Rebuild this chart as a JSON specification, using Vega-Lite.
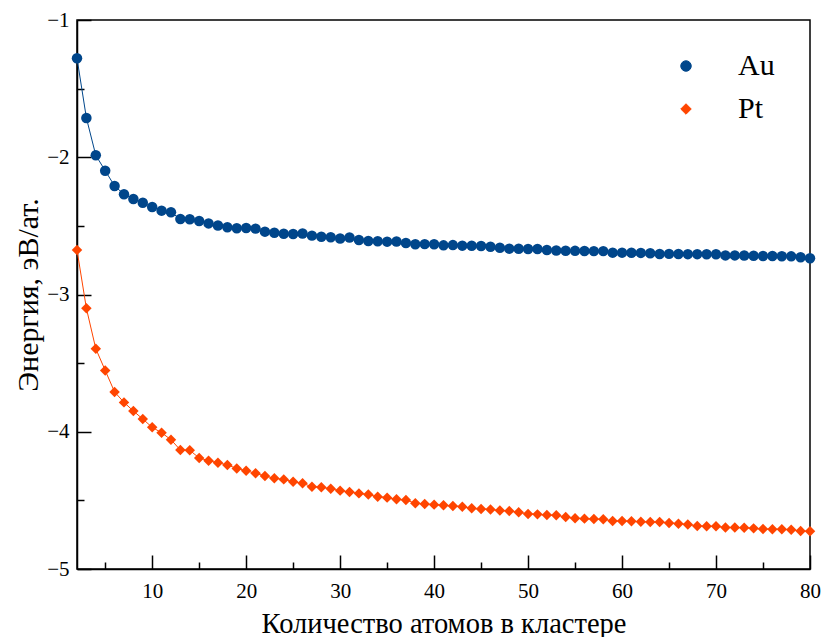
{
  "$schema": "https://vega.github.io/schema/vega-lite/v6.json",
  "width": 733,
  "height": 549,
  "autosize": "none",
  "padding": {"left": 77, "top": 20, "right": 14, "bottom": 68},
  "config": {
    "view": {"stroke": "black", "strokeWidth": 1.5},
    "font": "Liberation Serif",
    "axis": {
      "domainColor": "black", "domainWidth": 1.5, "tickColor": "black", "tickWidth": 1.5,
      "labelColor": "black", "titleColor": "black", "labelFont": "Liberation Serif", "titleFont": "Liberation Serif",
      "labelFontSize": 21, "titleFontSize": 28.5, "titleFontWeight": "normal", "grid": false,
      "labelFlush": false, "labelOverlap": false
    }
  },
  "data": {"values": [
    {"n":2,"m":"Au","E":-1.279},{"n":3,"m":"Au","E":-1.714},{"n":4,"m":"Au","E":-1.986},{"n":5,"m":"Au","E":-2.098},{"n":6,"m":"Au","E":-2.209},{"n":7,"m":"Au","E":-2.270},{"n":8,"m":"Au","E":-2.304},{"n":9,"m":"Au","E":-2.331},{"n":10,"m":"Au","E":-2.362},
    {"n":11,"m":"Au","E":-2.389},{"n":12,"m":"Au","E":-2.401},{"n":13,"m":"Au","E":-2.450},{"n":14,"m":"Au","E":-2.452},{"n":15,"m":"Au","E":-2.464},{"n":16,"m":"Au","E":-2.482},{"n":17,"m":"Au","E":-2.497},{"n":18,"m":"Au","E":-2.510},{"n":19,"m":"Au","E":-2.517},{"n":20,"m":"Au","E":-2.515},
    {"n":21,"m":"Au","E":-2.520},{"n":22,"m":"Au","E":-2.542},{"n":23,"m":"Au","E":-2.550},{"n":24,"m":"Au","E":-2.557},{"n":25,"m":"Au","E":-2.559},{"n":26,"m":"Au","E":-2.556},{"n":27,"m":"Au","E":-2.571},{"n":28,"m":"Au","E":-2.579},{"n":29,"m":"Au","E":-2.583},{"n":30,"m":"Au","E":-2.592},
    {"n":31,"m":"Au","E":-2.585},{"n":32,"m":"Au","E":-2.603},{"n":33,"m":"Au","E":-2.610},{"n":34,"m":"Au","E":-2.612},{"n":35,"m":"Au","E":-2.615},{"n":36,"m":"Au","E":-2.614},{"n":37,"m":"Au","E":-2.625},{"n":38,"m":"Au","E":-2.634},{"n":39,"m":"Au","E":-2.633},{"n":40,"m":"Au","E":-2.634},
    {"n":41,"m":"Au","E":-2.642},{"n":42,"m":"Au","E":-2.640},{"n":43,"m":"Au","E":-2.644},{"n":44,"m":"Au","E":-2.645},{"n":45,"m":"Au","E":-2.647},{"n":46,"m":"Au","E":-2.652},{"n":47,"m":"Au","E":-2.659},{"n":48,"m":"Au","E":-2.666},{"n":49,"m":"Au","E":-2.667},{"n":50,"m":"Au","E":-2.668},
    {"n":51,"m":"Au","E":-2.669},{"n":52,"m":"Au","E":-2.676},{"n":53,"m":"Au","E":-2.680},{"n":54,"m":"Au","E":-2.681},{"n":55,"m":"Au","E":-2.682},{"n":56,"m":"Au","E":-2.683},{"n":57,"m":"Au","E":-2.684},{"n":58,"m":"Au","E":-2.684},{"n":59,"m":"Au","E":-2.695},{"n":60,"m":"Au","E":-2.695},
    {"n":61,"m":"Au","E":-2.696},{"n":62,"m":"Au","E":-2.697},{"n":63,"m":"Au","E":-2.700},{"n":64,"m":"Au","E":-2.705},{"n":65,"m":"Au","E":-2.704},{"n":66,"m":"Au","E":-2.705},{"n":67,"m":"Au","E":-2.706},{"n":68,"m":"Au","E":-2.706},{"n":69,"m":"Au","E":-2.707},{"n":70,"m":"Au","E":-2.707},
    {"n":71,"m":"Au","E":-2.715},{"n":72,"m":"Au","E":-2.715},{"n":73,"m":"Au","E":-2.716},{"n":74,"m":"Au","E":-2.718},{"n":75,"m":"Au","E":-2.720},{"n":76,"m":"Au","E":-2.720},{"n":77,"m":"Au","E":-2.721},{"n":78,"m":"Au","E":-2.722},{"n":79,"m":"Au","E":-2.729},{"n":80,"m":"Au","E":-2.736},
    {"n":2,"m":"Pt","E":-2.676},{"n":3,"m":"Pt","E":-3.101},{"n":4,"m":"Pt","E":-3.395},{"n":5,"m":"Pt","E":-3.553},{"n":6,"m":"Pt","E":-3.710},{"n":7,"m":"Pt","E":-3.786},{"n":8,"m":"Pt","E":-3.849},{"n":9,"m":"Pt","E":-3.907},{"n":10,"m":"Pt","E":-3.968},
    {"n":11,"m":"Pt","E":-4.007},{"n":12,"m":"Pt","E":-4.058},{"n":13,"m":"Pt","E":-4.133},{"n":14,"m":"Pt","E":-4.135},{"n":15,"m":"Pt","E":-4.191},{"n":16,"m":"Pt","E":-4.211},{"n":17,"m":"Pt","E":-4.225},{"n":18,"m":"Pt","E":-4.242},{"n":19,"m":"Pt","E":-4.267},{"n":20,"m":"Pt","E":-4.284},
    {"n":21,"m":"Pt","E":-4.303},{"n":22,"m":"Pt","E":-4.322},{"n":23,"m":"Pt","E":-4.339},{"n":24,"m":"Pt","E":-4.347},{"n":25,"m":"Pt","E":-4.364},{"n":26,"m":"Pt","E":-4.376},{"n":27,"m":"Pt","E":-4.400},{"n":28,"m":"Pt","E":-4.405},{"n":29,"m":"Pt","E":-4.415},{"n":30,"m":"Pt","E":-4.429},
    {"n":31,"m":"Pt","E":-4.439},{"n":32,"m":"Pt","E":-4.449},{"n":33,"m":"Pt","E":-4.458},{"n":34,"m":"Pt","E":-4.473},{"n":35,"m":"Pt","E":-4.480},{"n":36,"m":"Pt","E":-4.492},{"n":37,"m":"Pt","E":-4.497},{"n":38,"m":"Pt","E":-4.521},{"n":39,"m":"Pt","E":-4.526},{"n":40,"m":"Pt","E":-4.531},
    {"n":41,"m":"Pt","E":-4.536},{"n":42,"m":"Pt","E":-4.541},{"n":43,"m":"Pt","E":-4.546},{"n":44,"m":"Pt","E":-4.558},{"n":45,"m":"Pt","E":-4.563},{"n":46,"m":"Pt","E":-4.566},{"n":47,"m":"Pt","E":-4.574},{"n":48,"m":"Pt","E":-4.578},{"n":49,"m":"Pt","E":-4.587},{"n":50,"m":"Pt","E":-4.599},
    {"n":51,"m":"Pt","E":-4.602},{"n":52,"m":"Pt","E":-4.607},{"n":53,"m":"Pt","E":-4.609},{"n":54,"m":"Pt","E":-4.621},{"n":55,"m":"Pt","E":-4.631},{"n":56,"m":"Pt","E":-4.633},{"n":57,"m":"Pt","E":-4.636},{"n":58,"m":"Pt","E":-4.638},{"n":59,"m":"Pt","E":-4.650},{"n":60,"m":"Pt","E":-4.651},
    {"n":61,"m":"Pt","E":-4.652},{"n":62,"m":"Pt","E":-4.655},{"n":63,"m":"Pt","E":-4.657},{"n":64,"m":"Pt","E":-4.658},{"n":65,"m":"Pt","E":-4.665},{"n":66,"m":"Pt","E":-4.670},{"n":67,"m":"Pt","E":-4.675},{"n":68,"m":"Pt","E":-4.687},{"n":69,"m":"Pt","E":-4.688},{"n":70,"m":"Pt","E":-4.689},
    {"n":71,"m":"Pt","E":-4.697},{"n":72,"m":"Pt","E":-4.698},{"n":73,"m":"Pt","E":-4.700},{"n":74,"m":"Pt","E":-4.704},{"n":75,"m":"Pt","E":-4.709},{"n":76,"m":"Pt","E":-4.710},{"n":77,"m":"Pt","E":-4.711},{"n":78,"m":"Pt","E":-4.714},{"n":79,"m":"Pt","E":-4.723},{"n":80,"m":"Pt","E":-4.725}
  ]},
  "encoding": {
    "x": {
      "field": "n", "type": "quantitative",
      "scale": {"domain": [2, 80], "nice": false, "zero": false},
      "axis": {
        "title": "Количество атомов в кластере",
        "values": [5,10,15,20,25,30,35,40,45,50,55,60,65,70,75,80],
        "labelExpr": "datum.value % 10 === 0 ? format(datum.value, 'd') : ''",
        "tickSize": {"condition": {"test": "datum.value % 10 === 0", "value": -14}, "value": -7},
        "labelPadding": 25,
        "titleBaseline": "alphabetic",
        "titleY": 63
      }
    },
    "y": {
      "field": "E", "type": "quantitative",
      "scale": {"domain": [-5, -1], "nice": false, "zero": false},
      "axis": {
        "title": "Энергия, эВ/ат.",
        "titleFontSize": 30,
        "values": [-1,-1.5,-2,-2.5,-3,-3.5,-4,-4.5,-5],
        "labelExpr": "datum.value % 1 === 0 ? '\u2212' + format(abs(datum.value), 'd') : ''",
        "tickSize": {"condition": {"test": "datum.value % 1 === 0", "value": -14}, "value": -7},
        "labelPadding": 22,
        "titleX": -34
      }
    },
    "color": {
      "field": "m", "type": "nominal",
      "scale": {"domain": ["Au", "Pt"], "range": ["#00468b", "#ff4500"]},
      "legend": {
        "title": null,
        "orient": "none",
        "legendX": 594,
        "legendY": 31,
        "padding": 0,
        "labelFont": "Liberation Serif",
        "labelFontSize": 30,
        "labelColor": "black",
        "labelOffset": 37,
        "rowPadding": 13,
        "symbolSize": 110,
        "symbolStrokeWidth": 1
      }
    }
  },
  "layer": [
    {"mark": {"type": "line", "strokeWidth": 1}},
    {
      "mark": {"type": "point", "filled": true, "opacity": 1},
      "encoding": {
        "shape": {"field": "m", "type": "nominal", "scale": {"domain": ["Au", "Pt"], "range": ["circle", "diamond"]}, "legend": null},
        "size": {"value": 110}
      }
    }
  ]
}
